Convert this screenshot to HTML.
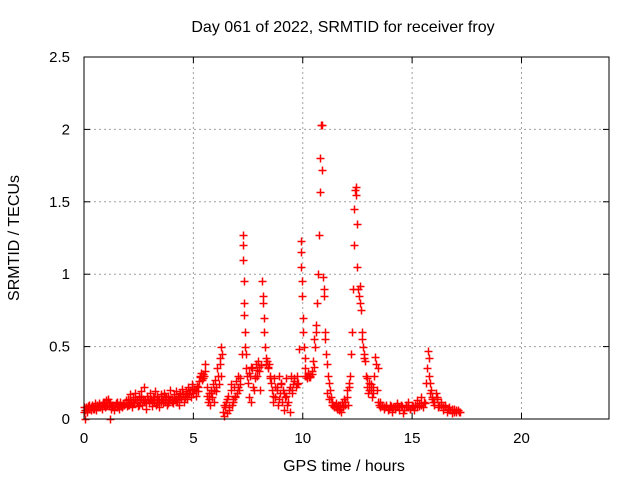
<!DOCTYPE html>
<html><head><meta charset="utf-8"><style>
body{margin:0;background:#fff;}
svg{display:block;font-family:"Liberation Sans",sans-serif;}
</style></head><body>
<svg id="chart" width="640" height="480">
<text x="343" y="32" font-size="16" text-anchor="middle">Day 061 of 2022, SRMTID for receiver froy</text>
<text x="344" y="471" font-size="16" text-anchor="middle">GPS time / hours</text>
<text transform="translate(19,238) rotate(-90)" font-size="16" text-anchor="middle">SRMTID / TECUs</text>
<g id="grid"></g><g id="ticks"></g><g id="marks"></g>
<rect x="84" y="57" width="525" height="362" fill="none" stroke="#000" stroke-width="1"/>
</svg>
<script>
const xTicks=[0,5,10,15,20];
const yTicks=[0,0.5,1,1.5,2,2.5];
const yTickLabels=["0","0.5","1","1.5","2","2.5"];
const times=[0,0.05,0.1,0.15,0.2,0.25,0.3,0.35,0.4,0.45,0.5,0.55,0.6,0.65,0.7,0.75,0.8,0.85,0.9,0.95,1.0,1.05,1.1,1.15,1.2,1.25,1.3,1.35,1.4,1.45,1.5,1.55,1.6,1.65,1.7,1.75,1.8,1.85,1.9,1.95,
2.0,2.05,2.1,2.15,2.2,2.25,2.3,2.35,2.4,2.45,2.5,2.55,2.6,2.65,2.7,2.75,2.8,2.85,2.9,2.95,3.0,3.05,3.1,3.15,3.2,3.25,3.3,3.35,3.4,3.45,3.5,3.55,3.6,3.65,3.7,3.75,3.8,3.85,3.9,3.95,4.0,4.05,4.1,4.15,4.2,4.25,4.3,4.35,4.4,4.45,4.5,4.55,4.6,4.65,4.7,4.75,4.8,4.85,4.9,4.95,
5.0,5.05,5.1,5.15,5.2,5.25,5.3,5.35,5.4,5.45,5.5,5.55,5.6,5.65,5.7,5.75,5.8,5.85,5.9,5.95,6.0,6.05,6.1,6.15,6.2,6.25,6.28,6.3,
6.35,6.4,6.45,6.5,6.55,6.6,6.65,6.7,6.75,6.8,6.85,6.9,6.95,7.0,7.05,7.1,7.15,
7.2,7.25,7.27,7.28,7.3,7.32,7.33,7.35,7.37,7.4,7.42,7.45,
7.5,7.55,7.6,7.65,7.7,7.75,7.8,7.85,7.9,7.95,8.0,8.05,8.1,
8.15,8.18,8.2,8.22,8.25,8.28,8.3,8.35,8.4,8.45,8.5,8.55,
8.6,8.65,8.7,8.75,8.8,8.85,8.9,8.95,9.0,9.05,9.1,9.15,9.2,9.25,9.3,9.35,9.4,9.45,9.5,9.55,9.6,
9.7,9.75,9.8,9.85,9.9,9.92,9.93,9.95,9.97,10.0,10.02,10.05,10.08,10.1,
10.15,10.2,10.25,10.3,10.35,10.4,10.45,10.5,10.55,10.6,
10.65,10.7,10.75,10.78,10.8,10.83,10.86,10.9,10.92,10.95,10.98,11.0,11.03,11.05,11.1,11.15,11.2,11.25,11.3,
11.35,11.4,11.45,11.5,11.55,11.6,11.65,11.7,11.75,11.8,11.85,11.9,11.95,12.0,12.05,12.1,12.15,
12.2,12.25,12.3,12.33,12.36,12.38,12.42,12.45,12.47,12.5,12.53,12.55,12.6,12.63,12.66,12.7,12.75,12.8,12.85,
12.9,12.95,13.0,13.05,13.1,13.15,13.2,13.25,13.3,13.35,13.4,13.45,13.5,
13.55,13.6,13.7,13.8,13.9,14.0,14.1,14.2,14.3,14.4,14.5,14.6,14.7,14.8,14.9,15.0,15.1,15.2,15.3,15.4,15.5,15.6,
15.65,15.7,15.72,15.75,15.78,15.8,15.85,15.9,15.95,16.0,16.1,16.15,16.2,16.3,16.4,16.5,16.6,16.7,16.8,16.9,17.0,17.1,17.2,
0.02,0.12,0.22,0.32,0.42,0.52,0.62,0.72,0.82,0.92,1.02,1.12,1.22,1.32,1.42,1.52,1.62,1.72,1.82,1.92,
2.02,2.12,2.22,2.32,2.42,2.52,2.62,2.72,2.82,2.92,3.02,3.12,3.22,3.32,3.42,3.52,3.62,3.72,3.82,3.92,4.02,4.12,4.22,4.32,4.42,4.52,4.62,4.72,4.82,4.92,
5.02,5.12,5.22,5.32,5.42,5.52,5.62,5.72,5.82,5.92,6.02,6.12,6.22,6.42,6.52,6.62,6.72,6.82,6.92,7.02,7.12,
7.52,7.62,7.72,7.82,7.92,8.02,8.32,8.42,8.52,8.62,8.72,8.82,8.92,9.02,9.12,9.22,9.32,9.42,9.52,9.62,9.72,
10.12,10.22,10.32,10.42,10.52,10.62,11.12,11.22,11.32,11.42,11.52,11.62,11.72,11.82,11.92,12.02,12.12,
12.72,12.82,12.92,13.02,13.12,13.22,13.42,13.52,13.62,13.72,13.82,13.92,14.02,14.12,14.22,14.32,14.42,14.52,14.62,14.72,14.82,14.92,15.02,15.12,15.22,15.32,15.42,15.52,
15.82,15.92,16.02,16.12,16.22,16.32,16.42,16.52,16.62,16.72,16.82,16.92,17.02,17.12,
0.05,1.2];
const values=[.05,.06,.08,.05,.09,.07,.06,.1,.08,.07,.09,.06,.1,.08,.11,.09,.07,.12,.1,.08,.13,.1,.14,.09,.12,.07,.1,.06,.09,.11,.08,.1,.07,.12,.09,.08,.11,.1,.13,.09,
.14,.1,.17,.12,.08,.15,.11,.18,.13,.09,.16,.12,.19,.1,.14,.22,.13,.07,.16,.11,.18,.14,.09,.15,.12,.19,.1,.16,.13,.08,.17,.14,.11,.18,.12,.15,.1,.16,.13,.2,.14,.11,.17,.13,.19,.12,.15,.1,.18,.14,.21,.12,.16,.19,.14,.22,.17,.2,.15,.24,
.18,.21,.16,.23,.19,.26,.29,.32,.27,.31,.3,.38,.22,.12,.18,.1,.2,.15,.24,.12,.27,.19,.35,.24,.42,.3,.5,.45,
.05,.02,.08,.12,.04,.16,.08,.2,.1,.14,.22,.15,.26,.18,.3,.2,.28,
.45,1.27,1.2,1.1,.95,.8,.72,.6,.5,.45,.35,.3,
.25,.15,.3,.12,.35,.2,.28,.38,.3,.4,.33,.2,.37,
.95,.85,.8,.7,.6,.5,.42,.4,.36,.38,.3,.25,
.2,.12,.28,.15,.22,.1,.3,.18,.25,.12,.2,.06,.15,.28,.1,.2,.05,.3,.2,.24,.28,
.22,.3,.25,.48,1.23,1.15,1.05,.95,.85,.7,.6,.5,.42,.35,
.3,.28,.32,.29,.3,.33,.4,.55,.5,.65,
.8,1.0,1.27,1.57,1.8,2.03,2.03,1.72,.98,.9,.85,.6,.55,.45,.38,.3,.25,.2,.15,
.12,.1,.08,.11,.07,.09,.06,.1,.05,.12,.08,.14,.1,.2,.1,.25,.3,
.45,.6,.9,1.2,1.45,1.58,1.6,1.55,1.35,1.05,.9,.85,.8,.92,.75,.6,.5,.45,.4,
.3,.22,.18,.25,.2,.15,.22,.3,.43,.38,.2,.12,.1,
.08,.1,.07,.09,.06,.1,.05,.08,.11,.06,.1,.04,.08,.12,.07,.1,.06,.13,.09,.15,.08,.11,
.25,.35,.47,.42,.3,.25,.2,.15,.12,.1,.18,.14,.08,.1,.06,.09,.05,.08,.04,.07,.05,.06,.05,
.08,.06,.1,.08,.07,.11,.09,.08,.1,.12,.09,.11,.08,.1,.09,.12,.1,.09,.1,.11,
.1,.13,.11,.14,.12,.1,.15,.12,.11,.14,.13,.12,.15,.11,.14,.12,.13,.16,.11,.14,.12,.15,.13,.16,.14,.17,.15,.18,.17,.21,
.2,.19,.22,.3,.28,.33,.16,.14,.18,.2,.22,.3,.38,.1,.14,.06,.24,.12,.16,.22,.24,
.32,.36,.22,.3,.34,.36,.38,.35,.28,.16,.22,.2,.14,.24,.18,.16,.12,.22,.18,.26,.24,
.3,.31,.29,.31,.36,.6,.18,.14,.1,.09,.08,.1,.07,.09,.12,.15,.22,
.55,.42,.28,.2,.24,.18,.35,.12,.09,.08,.1,.07,.09,.08,.07,.1,.08,.09,.06,.1,.08,.07,.09,.1,.08,.11,.1,.12,
.18,.14,.12,.15,.1,.12,.08,.1,.07,.06,.07,.05,.06,.05,
0,0];
const X0=84,X1=609,Y0=419,Y1=57,XMAX=24,YMAX=2.5;
function xs(t){return X0+(X1-X0)*t/XMAX;}
function ys(v){return Y0-(Y0-Y1)*v/YMAX;}
const NS="http://www.w3.org/2000/svg";
const grid=document.getElementById('grid'),ticks=document.getElementById('ticks'),marks=document.getElementById('marks');
function mk(tag,attrs,parent){const e=document.createElementNS(NS,tag);for(const k in attrs)e.setAttribute(k,attrs[k]);parent.appendChild(e);return e;}
xTicks.forEach(function(t){
  const x=xs(t);
  if(t>0){const g=mk('line',{x1:x,y1:Y0,x2:x,y2:Y1,stroke:'#a0a0a0','stroke-dasharray':'2,3'},grid);
  
  }
  mk('line',{x1:x,y1:Y0,x2:x,y2:Y0-6,stroke:'#000'},ticks);
  mk('line',{x1:x,y1:Y1,x2:x,y2:Y1+6,stroke:'#000'},ticks);
  const l=mk('text',{x:x,y:443,'font-size':15,'text-anchor':'middle'},ticks);
  l.textContent=t;
  
  
});
yTicks.forEach(function(v,i){
  const y=ys(v);
  if(v>0&&v<YMAX){const g=mk('line',{x1:X0,y1:y,x2:X1,y2:y,stroke:'#a0a0a0','stroke-dasharray':'2,3'},grid);
  
  }
  mk('line',{x1:X0,y1:y,x2:X0+6,y2:y,stroke:'#000'},ticks);
  mk('line',{x1:X1,y1:y,x2:X1-6,y2:y,stroke:'#000'},ticks);
  const l=mk('text',{x:70,y:y+5,'font-size':15,'text-anchor':'end'},ticks);
  l.textContent=yTickLabels[i];
  
  
});
times.forEach(function(t,i){
  const x=Math.round(xs(t))+0.5,y=Math.round(ys(values[i]))+0.5;
  const p=mk('path',{d:'M'+(x-4)+' '+y+'H'+(x+4)+'M'+x+' '+(y-4)+'V'+(y+4),stroke:'#ff0000','stroke-width':1.5,fill:'none'},marks);
  
  
});
</script>
</body></html>
